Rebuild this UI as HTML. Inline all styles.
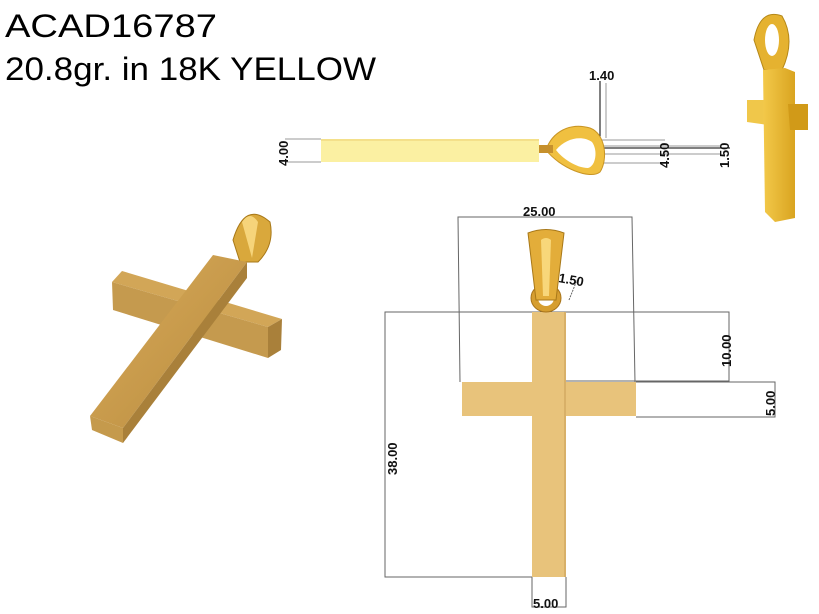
<!DOCTYPE html>
<html><head><meta charset="utf-8"><style>
html,body{margin:0;padding:0;background:#fff;}
svg{display:block;}
text{font-family:"Liberation Sans",sans-serif;}
.d{font-weight:bold;font-size:13px;fill:#111;}
</style></head><body>
<svg width="819" height="614" viewBox="0 0 819 614" xmlns="http://www.w3.org/2000/svg">
<defs>
<linearGradient id="g1" x1="0" y1="0" x2="1" y2="1"><stop offset="0" stop-color="#d8aa5a"/><stop offset="1" stop-color="#b98c3e"/></linearGradient>
<linearGradient id="g2" x1="0" y1="0" x2="1" y2="0"><stop offset="0" stop-color="#f3c94a"/><stop offset="1" stop-color="#d9a420"/></linearGradient>
</defs>
<text x="5" y="37" font-size="32" textLength="212" lengthAdjust="spacingAndGlyphs">ACAD16787</text>
<text x="5" y="80" font-size="32" textLength="371" lengthAdjust="spacingAndGlyphs">20.8gr. in 18K YELLOW</text>

<!-- side view -->
<g stroke="#999" stroke-width="1" fill="none">
<line x1="285" y1="139" x2="321" y2="139"/><line x1="285" y1="162" x2="321" y2="162"/>
<line x1="606" y1="83" x2="606" y2="138"/>
<line x1="585" y1="140" x2="665" y2="140"/><line x1="580" y1="154" x2="720" y2="154"/>
<line x1="585" y1="163" x2="665" y2="163"/><line x1="590" y1="146" x2="720" y2="146"/>
</g>
<g stroke="#000" stroke-width="1" fill="none">
<line x1="600" y1="81" x2="600" y2="152"/><line x1="548" y1="148" x2="730" y2="148"/>
</g>
<rect x="321" y="139" width="218" height="23" fill="#fbf0a2"/>
<rect x="321" y="139" width="218" height="2" fill="#f4e08a"/>
<path d="M546,150 C552,132 570,122 590,128 C606,134 608,160 600,172 C590,180 560,168 546,150 Z" fill="#f0c040" stroke="#c99524"/>
<path d="M556,150 C566,138 582,135 592,142 C598,150 596,166 588,168 C576,168 562,158 556,150 Z" fill="#fff"/>
<rect x="539" y="145" width="14" height="8" fill="#c6902c"/>
<text class="d" x="589" y="80">1.40</text>
<text class="d" transform="translate(288,166) rotate(-90)">4.00</text>
<text class="d" transform="translate(669,168) rotate(-90)">4.50</text>
<text class="d" transform="translate(729,168) rotate(-90)">1.50</text>

<!-- front view dims -->
<g stroke="#666" stroke-width="1" fill="none">
<polyline points="460,382 458,217 632,217 635,382"/>
<polyline points="532,577 385,577 385,312 729,312 729,381 566,381"/>
<polyline points="636,382 775,382 775,417 636,417"/>
<polyline points="532,577 532,607 566,607 566,577"/>
<line x1="569" y1="300" x2="577" y2="280" stroke-dasharray="2,1"/>
</g>
<rect x="532" y="312" width="34" height="265" fill="#e8c37b"/>
<rect x="462" y="382" width="174" height="34" fill="#e8c37b"/>
<rect x="564" y="312" width="2" height="265" fill="#d8b068"/>
<ellipse cx="546" cy="298" rx="15" ry="14" fill="#d69e30" stroke="#a8741a"/>
<ellipse cx="546" cy="298" rx="8" ry="8" fill="#fff"/>
<path d="M528,233 Q546,226 564,233 L556,300 L536,300 Z" fill="#e3ad3a" stroke="#a87818"/>
<path d="M541,240 Q546,236 551,240 L549,296 L543,296 Z" fill="#f8d77a"/>
<text class="d" x="523" y="216" font-size="14">25.00</text>
<text class="d" x="558" y="282" transform="rotate(10,558,282)">1.50</text>
<text class="d" transform="translate(731,367) rotate(-90)">10.00</text>
<text class="d" transform="translate(775,416) rotate(-90)">5.00</text>
<text class="d" transform="translate(397,475) rotate(-90)">38.00</text>
<text class="d" x="533" y="608">5.00</text>

<!-- left 3D cross -->
<path d="M233,240 Q245,200 270,222 Q275,245 258,262 L240,262 Z" fill="#d9a83c" stroke="#a87818"/>
<path d="M242,222 Q250,210 258,222 L252,258 Z" fill="#f6d47a"/>
<polygon points="122,271 282,319 268,327 112,282" fill="#d2a657"/>
<polygon points="112,282 268,327 268,358 113,310" fill="#c59a4e"/>
<polygon points="268,327 282,319 281,350 268,358" fill="#a9803a"/>
<polygon points="213,255 247,262 123,428 90,416" fill="url(#g1)"/>
<polygon points="247,262 247,278 123,443 123,428" fill="#a9803a"/>
<polygon points="90,416 123,428 123,443 92,430" fill="#c59a4c"/>

<!-- right small cross -->
<path d="M754,40 Q760,8 782,16 Q796,40 782,70 L764,70 Z" fill="#e5b230" stroke="#b58818"/>
<ellipse cx="772" cy="40" rx="7" ry="16" fill="#fff"/>
<polygon points="747,100 790,100 790,128 747,122" fill="#f0c74a"/>
<polygon points="763,70 785,68 795,72 795,218 775,222 765,212" fill="url(#g2)"/>
<polygon points="788,104 808,104 808,130 790,130" fill="#d19a18"/>
</svg>
</body></html>
